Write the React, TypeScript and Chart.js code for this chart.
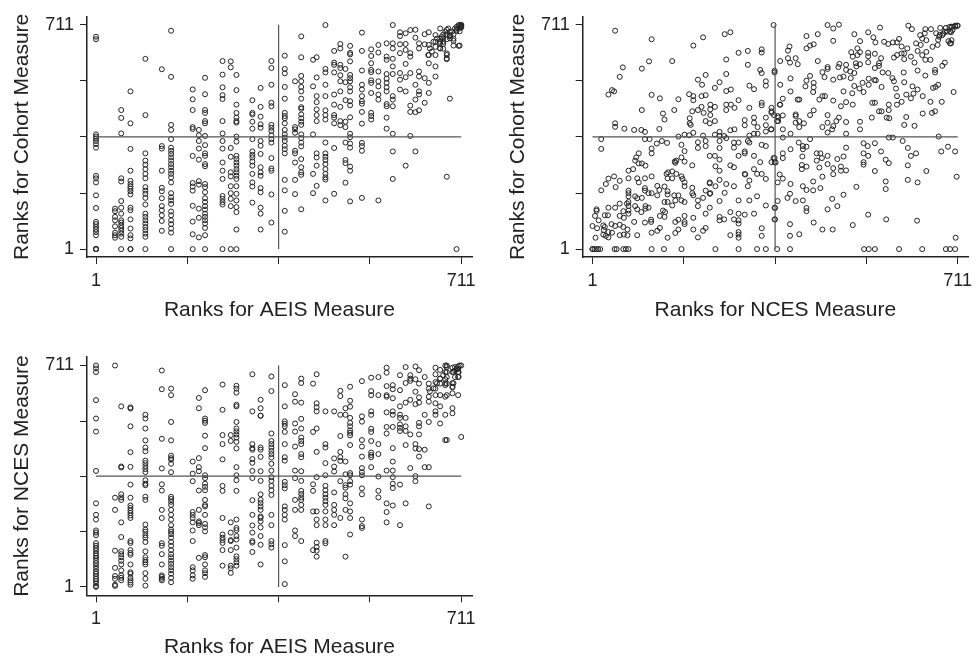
import React, { useEffect, useRef } from "react";
import { Chart, registerables } from "chart.js";

Chart.register(...registerables);

const tickValues = [1, 178, 356, 533, 711];
const labelledTicks = [1, 711];
const medianRank = 356;

// Ranks for AEIS Measure: one distinct rank per column of points (ties form columns)
const aeisRanksA = [1,38,50,68,97,129,147,189,201,213,247,263,274,305,321,342,368,388,400,423,430,447,464,476,486,495,518,536,550,566,578,592,603,612,622,629,640,648,661,670,676,683,689,696,702,708,711];
const cohortByAeis = [
[673,665,364,357,351,343,333,322,233,225,212,171,131,87,80,71,63,55,45,1,1,1],
[129,121,103,92,73,53,45,37],
[441,416,367,225,215,153,132,113,92,85,76,68,59,50,40,1],
[500,399,318,249,217,207,199,192,184,174,132,124,95,66,45,35,1,1],
[603,425,304,281,268,254,239,225,197,186,176,163,142,113,103,92,82,71,61,50,40,1],
[570,327,319,249,195,184,162,137,124,108,90,59],
[692,546,394,378,349,322,312,302,291,281,270,260,249,239,228,212,178,165,155,144,120,108,92,80,66,53,1],
[506,475,441,387,381,296,210,199,186,138,88,48,1],
[378,361,343,319,284,216,205,129,100,38],
[543,491,441,432,406,399,359,330,304,296,270,263,207,197,181,162,150,137,126,113,103,92,82,68,45,1],
[596,553,513,488,476,406,367,343,319,275,249,223,169,160,150,142,1],
[595,576,321,293,244,231,200,178,160,137,1],
[552,504,458,432,417,406,401,357,341,296,286,275,265,254,244,233,223,200,176,155,134,118,63,1],
[472,432,427,404,382,349,310,299,291,278,265,239,212,199,148],
[511,451,420,396,385,343,328,302,260,244,233,194,181,132,113,63],
[596,574,521,464,453,394,385,375,361,349,338,289,256,249,174,85],
[613,571,557,514,477,432,422,415,399,378,364,354,343,328,317,304,220,187,122,56],
[532,387,380,369,312,304,275,220,175],
[674,608,549,532,514,500,477,450,445,427,415,404,394,364,352,338,326,286,260,244,236,127],
[600,516,364,239,178],
[608,544,485,466,443,425,406,304,291,265,201],
[710,571,560,521,485,440,425,411,338,304,293,283,270,254,239,228,221,155],
[628,591,584,560,490,458,425,417,399,321,176],
[650,636,584,574,551,532,500,451,406,393],
[571,529,472,404,387,338,283,273,211],
[644,622,617,595,552,542,532,513,500,469,456,418,366,355,335,322,262,249,152],
[686,628,566,521,506,485,469,461,435,398,337,327,312,163],
[633,612,589,568,561,535,527,495,432,422,411],
[647,623,563,532,516,490,474,155],
[652,610,600,555,540,527,513,500,460,453,417,382],
[710,652,636,603,579,555,485,474,453,366,310,223],
[687,675,649,621,558,537,506],
[684,650,631,587,545,500,265],
[694,621,610,558,455,435,359],
[695,670,521,474,434,310],
[652,636,563,547,500,490,440],
[681,649,542,464],
[687,647,615,589,527,495],
[678,657,641,615,579,547],
[699,666,652,636],
[680,668,650,635],
[695,680,665,620,602,230],
[688,675,668,477],
[680,660,645],
[695,691,1],
[708,701,690,645],
[711,708,705,702],
];
const cohortClusterPairs: number[][] = [
[706,710],[699,699],[693,689],[686,699],[680,689],[673,673],[670,657],[664,667],[657,657],[650,636],[654,626],[647,615],[689,678],[696,667],[706,644],[683,615],[683,604],[670,636],[676,657],[702,704],
];

const ncesCohortPairs: number[][] = [
[1,1],[1,1],[5,1],[9,1],[12,1],[16,1],[44,1],[48,1],[61,1],[66,1],[71,1],[116,1],[140,1],[174,1],[240,1],[285,1],[321,1],[338,1],[360,1],[385,1],[529,1],[538,1],[550,1],[597,1],[642,1],[688,1],[696,1],[706,1],
[45,692],[116,665],[216,671],[197,645],[258,681],[269,687],[353,710],[285,622],[303,628],[330,633],[330,623],[303,584],[261,601],[156,596],[111,595],[60,576],[97,572],[54,546],[327,568],[330,558],[355,565],[355,560],[261,555],[221,552],[206,537],[214,521],[248,529],[239,511],[306,518],[315,507],[338,532],[338,518],[270,506],[261,501],
[39,504],[43,500],[32,490],[116,489],[132,478],[168,475],[189,491],[197,485],[197,472],[213,485],[221,488],[97,441],[138,430],[141,411],[160,441],[195,437],[206,441],[213,451],[217,432],[230,458],[230,443],[230,425],[239,451],[221,406],[229,399],[239,406],[190,415],[190,399],[192,394],[261,458],[261,441],[270,458],[277,448],[285,472],[306,448],[297,409],[297,393],[315,417],[315,401],[322,387],[330,464],[330,456],[338,417],[338,393],[338,373],[349,448],[349,432],[354,425],[362,417],[362,406],[365,458],[348,380],
[45,399],[45,388],[63,382],[82,378],[96,378],[103,372],[18,349],[18,318],[103,349],[112,349],[131,381],[168,357],[180,363],[189,361],[197,369],[216,360],[239,363],[248,372],[248,359],[257,359],[269,377],[277,380],[306,360],[315,366],[322,366],[116,319],[116,304],[126,335],[136,343],[146,337],[174,331],[180,311],[206,339],[206,321],[221,343],[221,327],[248,343],[248,321],[261,352],[276,338],[285,338],[276,322],[303,343],[306,338],[297,310],[297,304],[285,296],[330,331],[338,327],[315,296],[327,276],[349,276],[355,289],[355,276],
[91,304],[86,291],[84,281],[91,272],[97,272],[104,265],[80,254],[71,249],[71,225],[88,225],[91,212],[103,225],[116,231],[145,239],[148,244],[156,247],[164,239],[147,225],[156,225],[174,231],[176,223],[180,212],[180,200],[161,278],[162,274],[174,291],[164,281],[180,278],[195,266],[229,296],[239,296],[248,284],[240,263],[248,249],[269,266],[276,260],[297,239],[298,237],[315,254],[321,239],[330,239],[338,223],[229,212],[229,209],[248,220],[261,207],[276,200],[306,218],[303,200],[230,178],[221,186],[240,200],[258,179],[248,153],[285,155],[306,155],[321,168],[229,176],
[18,187],[27,207],[32,224],[43,231],[46,197],[54,217],[71,186],[71,178],[71,168],[84,168],[88,162],[97,163],[103,194],[103,186],[110,178],[116,178],[127,201],[127,171],[131,188],[147,184],[147,174],[141,199],[160,171],[168,171],[162,155],[174,155],[180,150],[195,195],[195,178],[197,171],[206,155],[216,163],
[9,127],[9,122],[6,106],[13,92],[1,74],[10,67],[7,37],[32,132],[25,108],[31,108],[22,76],[25,71],[23,61],[22,47],[27,43],[32,38],[32,55],[39,53],[38,80],[45,132],[45,74],[54,145],[54,106],[54,78],[61,121],[62,100],[61,71],[54,45],[62,47],[69,63],[69,45],[68,145],[71,150],[71,137],[71,123],[71,113],[82,87],[88,45],[84,137],[88,127],[96,118],[104,137],[104,129],[110,132],[103,85],[115,94],[115,87],[116,53],[127,59],[132,68],[147,37],[132,106],[138,123],[142,118],[141,103],[141,150],[147,150],[156,139],[162,87],[168,94],[180,106],[180,87],[180,80],[168,63],[162,52],[197,100],[197,63],[206,137],[221,113],[229,132],[221,68],[216,59],[206,38],[248,103],[248,92],[257,95],[269,118],[276,95],[285,113],[297,110],[285,92],[285,82],[315,113],[269,45],[285,55],[285,47],[285,37],[330,67],[330,43],[338,139],[355,132],[355,95],
[458,710],[469,699],[480,711],[417,675],[439,681],[469,660],[417,636],[424,645],[431,649],[384,642],[381,629],[366,596],[381,605],[385,591],[396,605],[400,586],[439,596],[458,577],[458,571],[448,561],[452,545],[479,577],[481,587],[469,537],[424,549],[417,534],[415,516],[431,527],[431,513],[430,498],[386,541],[366,521],[386,500],[371,477],[366,458],[400,474],[403,474],[442,474],[448,485],[453,485],[469,471],[489,500],[494,466],[484,453],[507,458],[349,437],[361,422],[371,424],[360,406],[396,427],[396,422],[431,440],[424,425],[458,425],[480,417],[469,390],[475,406],[458,401],[448,387],[458,370],[467,380],[403,406],[396,401],[403,387],[412,399],[494,403],[521,404],[521,380],[494,366],[371,380],[371,354],[386,366],[349,380],[544,417],
[504,624],[510,681],[521,659],[537,687],[547,671],[551,655],[560,702],[516,636],[507,610],[516,615],[521,624],[537,622],[537,611],[550,619],[537,592],[562,605],[558,589],[513,589],[521,586],[514,579],[494,584],[494,568],[502,563],[510,558],[503,542],[482,544],[489,547],[550,574],[558,581],[565,560],[576,558],[538,540],[549,536],[552,535],[584,542],[587,532],[591,509],[563,514],[510,517],[520,509],[526,527],[528,498],[506,494],[538,521],[593,485],[593,458],[602,467],[611,490],[606,560],[607,529],[620,478],[625,493],[633,506],[623,516],[643,485],[658,467],[680,467],[703,498],[673,521],[663,511],[668,514],[545,464],[550,464],[558,437],[563,437],[577,458],[577,441],[573,417],[578,415],[611,419],[607,394],[627,391],[643,430],[661,432],[667,437],[577,354],[585,354],[604,343],[674,357],[692,325],[679,310],[706,310],[620,296],[630,304],[614,321],
[597,666],[585,655],[568,657],[576,650],[593,655],[602,642],[615,708],[622,697],[613,636],[607,620],[602,620],[593,615],[587,607],[607,602],[620,610],[630,652],[638,678],[642,667],[650,662],[648,697],[647,684],[659,697],[639,647],[633,628],[642,615],[650,625],[648,600],[658,600],[662,641],[672,647],[669,684],[677,701],[675,673],[681,678],[688,701],[686,689],[695,704],[700,704],[706,708],[710,708],[693,659],[698,652],[701,694],[698,687],[627,591],[633,566],[648,550],[667,568],[667,560],[681,581],[686,591],[650,248],[709,230],[633,212],[614,220],[614,266],
[386,317],[371,304],[371,289],[353,289],[357,275],[410,327],[417,325],[402,338],[424,349],[410,317],[409,294],[437,304],[444,304],[447,289],[437,281],[458,296],[458,270],[442,259],[408,267],[408,254],[417,262],[469,257],[469,238],[477,286],[489,294],[484,262],[484,249],[494,250],[494,322],[528,336],[536,327],[550,336],[528,304],[537,296],[528,276],[528,268],[562,310],[571,284],[577,273],[550,248],[448,230],[365,237],[371,224],[361,212],[386,207],[410,200],[417,188],[430,215],[430,187],[444,194],[385,176],[380,163],[396,153],[410,155],[361,153],[356,131],[417,131],[417,121],[467,160],[477,137],[489,173],[514,198],[571,215],[571,191],[458,127],[537,110],[572,95],[632,91],[431,85],[448,63],[468,63],[507,77],[385,80],[385,43],[403,48],[356,95],[707,37],
[711,708],[706,705],[699,705],[696,689],[690,689],[683,683],[676,679],[673,663],[699,662],[696,652],
];

const aeisRanksB = [1,38,50,68,97,129,147,189,201,213,247,263,274,305,321,342,368,388,400,423,430,447,464,476,486,495,518,536,550,566,578,592,603,612,622,629,640,648,661,670,680,683,694,699,705,711];
const ncesByAeis = [
[711,702,690,600,541,499,373,269,232,217,182,175,167,141,133,125,117,108,101,94,85,77,68,59,50,43,35,27,20,12,4,1],
[711,287,248,117,62,36,27,8,4],
[580,387,384,298,288,280,208,161,115,106,96,85,73,54,38,30,22],
[577,573,516,433,386,329,287,262,254,246,238,230,222,148,142,119,110,104,73,48,43,30,22,15,8],
[553,541,509,471,448,436,406,398,388,379,369,343,332,327,290,280,201,185,178,167,159,145,115,96,87,80,73,45,27,5],
[695,635,476,381,330,310,248,222,141,133,106,73,38,33,27,22],
[637,616,530,471,422,414,409,396,369,290,283,274,264,248,232,217,199,185,178,170,159,145,133,119,106,96,85,75,64,54,43,30,16],
[403,364,340,241,232,222,208,182,148,64,54,38,27],
[607,574,414,385,372,310,248,211,206,199,94],
[632,541,534,527,486,446,359,350,332,322,311,280,264,259,232,203,192,179,103,96,73,54,45,33],
[650,569,488,459,410,325,309,222,169,159,151,142,119,69],
[488,469,208,175,151,148,119,69,61,46],
[646,637,624,585,580,530,509,500,490,480,466,445,385,359,343,309,217,190,183,164,153,127,99,90,80,69],
[683,564,459,446,441,411,399,373,350,279,232,198,175,148,143,113],
[601,574,550,550,448,441,418,372,341,298,280,270,259,248,227,222,211,192,164,136,73],
[676,629,493,469,459,448,437,427,416,396,374,353,341,325,311,296,232,199,148,138,127],
[648,580,532,524,516,498,459,417,406,338,327,317,259,248,232,217,135,83,10],
[619,595,525,499,451,374,350,280,248,182,164],
[669,655,592,540,509,480,469,459,427,417,372,341,309,299,288,280,264,248,148],
[653,498,330,309,243,119],
[683,590,577,564,509,434,353,243,217,199,143,129,117,98],
[564,459,448,398,359,325,311,298,287,276,264,243,217,199,148,141],
[564,413,387,371,304,264,248,232,199],
[630,613,553,485,434,417,405,340,222],
[574,553,403,362,327,319,298,285,248,98],
[643,598,579,543,527,516,503,495,487,456,366,359,340,329,269,243,222,169],
[661,548,531,472,451,419,382,369,359,317,298,217,196,190],
[672,629,616,564,553,508,498,469,432,424,417,385],
[674,616,459,427,355,309,288],
[704,688,645,616,611,561,514,493,374,269,241,208],
[648,635,606,564,553,514,446,403,374,353,332,318,262],
[680,632,580,553,543,522,511,501,329,199],
[706,655,592,543,516,501,456,269],
[680,669,662,601,490,382],
[708,667,627,587,459,445,356,340],
[696,653,609,592,527,516,490,443,419],
[674,553,441,385],
[653,637,611,595,530,385,259],
[704,683,658,637,616,590,564,553],
[697,669,653,616,580,525],
[711,690,667,648,611,553,472],
[706,674,653,616,472],
[704,690,655,643,622,574,558],
[706,695,674],
[708,700,690,674,616],
[711,482],
];
const ncesClusterPairs: number[][] = [
[708,711],[702,700],[706,690],[696,690],[683,711],[683,690],[676,680],[670,669],[664,654],[657,638],[650,628],[706,675],[696,654],[694,641],[680,654],
];

const fromColumns = (xs: number[], cols: number[][]) =>
  cols.flatMap((ys, i) => ys.map((y) => ({ x: xs[i], y })));
const fromPairs = (pairs: number[][]) => pairs.map(([x, y]) => ({ x, y }));

const FONT = "'Liberation Sans', Arial, sans-serif";
const INK = "#222";

type Panel = {
  left: number; top: number; width: number; height: number;
  axisX: number; axisBottom: number; axisTop: number; axisRight: number;
  xMin: number; xMax: number; yMin: number; yMax: number;
  xTitle: string; yTitle: string; yTitlePad: number; xTitlePad: number;
  points: { x: number; y: number }[];
};

const panels: Panel[] = [
  { left: 0, top: 0, width: 490, height: 325, axisX: 87, axisBottom: 257, axisTop: 15, axisRight: 472,
    xMin: -16.5, xMax: 732, yMin: -24, yMax: 736, xTitle: "Ranks for AEIS Measure", yTitle: "Ranks for Cohort Measure",
    yTitlePad: 10, xTitlePad: 2.4, points: [...fromColumns(aeisRanksA, cohortByAeis), ...fromPairs(cohortClusterPairs)] },
  { left: 500, top: 0, width: 480, height: 325, axisX: 82.7, axisBottom: 257, axisTop: 15, axisRight: 468,
    xMin: -18, xMax: 731, yMin: -24, yMax: 736, xTitle: "Ranks for NCES Measure", yTitle: "Ranks for Cohort Measure",
    yTitlePad: 5.5, xTitlePad: 2.4, points: fromPairs(ncesCohortPairs) },
  { left: 0, top: 340, width: 490, height: 330, axisX: 87, axisBottom: 255.3, axisTop: 12.7, axisRight: 472,
    xMin: -16.5, xMax: 732, yMin: -26, yMax: 739, xTitle: "Ranks for AEIS Measure", yTitle: "Ranks for NCES Measure",
    yTitlePad: 10, xTitlePad: 10.4, points: [...fromColumns(aeisRanksB, ncesByAeis), ...fromPairs(ncesClusterPairs)] },
];

function Scatter({ p }: { p: Panel }) {
  const ref = useRef<HTMLCanvasElement>(null);
  useEffect(() => {
    const axisCommon = {
      type: "linear" as const,
      afterBuildTicks: (s: any) => { s.ticks = tickValues.map((value) => ({ value })); },
      grid: { display: true, drawOnChartArea: false, drawTicks: true, tickLength: 7, color: INK, lineWidth: 1 },
      border: { display: true, color: INK, width: 1.5 },
    };
    const tickCallback = (v: any) => (labelledTicks.includes(Number(v)) ? String(v) : "");
    const chart = new Chart(ref.current!, {
      type: "scatter",
      data: {
        datasets: [
          {
            data: [{ x: 1, y: medianRank }, { x: 711, y: medianRank }],
            showLine: true, borderColor: "#555", borderWidth: 1.2, pointRadius: 0,
          },
          {
            data: [{ x: medianRank, y: 1 }, { x: medianRank, y: 711 }],
            showLine: true, borderColor: "#555", borderWidth: 1.2, pointRadius: 0,
          },
          {
            data: p.points, showLine: false, pointStyle: "circle", pointRadius: 2.5,
            pointBorderWidth: 1, pointBorderColor: INK, pointBackgroundColor: "transparent",
          },
        ],
      },
      options: {
        responsive: false,
        animation: false,
        layout: { padding: { top: p.axisTop, right: p.width - p.axisRight, left: 0, bottom: 0 } },
        plugins: { legend: { display: false }, tooltip: { enabled: false } },
        scales: {
          x: {
            ...axisCommon, min: p.xMin, max: p.xMax,
            afterFit: (s: any) => { s.height = p.height - p.axisBottom; },
            ticks: { autoSkip: false, maxRotation: 0, callback: tickCallback, color: INK, padding: 6, font: { family: FONT, size: 18 } },
            title: { display: true, text: p.xTitle, color: INK, padding: p.xTitlePad, font: { family: FONT, size: 21 } },
          },
          y: {
            ...axisCommon, min: p.yMin, max: p.yMax,
            afterFit: (s: any) => { s.width = p.axisX; },
            ticks: { autoSkip: false, callback: tickCallback, color: INK, padding: 6, font: { family: FONT, size: 18 } },
            title: { display: true, text: p.yTitle, color: INK, padding: p.yTitlePad, font: { family: FONT, size: 21 } },
          },
        },
      },
    });
    return () => chart.destroy();
  }, [p]);
  return (
    <canvas
      ref={ref}
      width={p.width}
      height={p.height}
      style={{ position: "absolute", left: p.left, top: p.top, width: p.width, height: p.height }}
    />
  );
}

export default function App() {
  return (
    <div style={{ position: "fixed", left: 0, top: 0, width: 980, height: 656, overflow: "hidden", background: "#fff" }}>
      {panels.map((p, i) => (
        <Scatter key={i} p={p} />
      ))}
    </div>
  );
}
